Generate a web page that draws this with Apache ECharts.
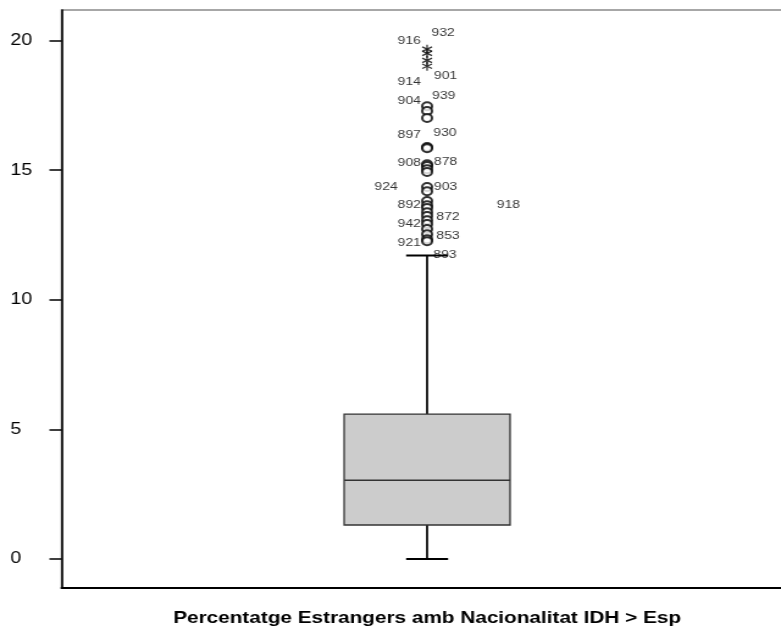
<!DOCTYPE html>
<html>
<head>
<meta charset="utf-8">
<script src="https://cdn.jsdelivr.net/npm/echarts@6/dist/echarts.min.js"></script>
<style>
  html, body { margin: 0; padding: 0; background: #fff; overflow: hidden; }
  #wrap { width: 781px; height: 633px; overflow: hidden; }
  /* the plot is drawn narrower and widened horizontally */
  #chart { width: 640px; height: 633px; transform: scaleX(1.2203); transform-origin: 0 0; }
</style>
</head>
<body>
<div id="wrap"><div id="chart"></div></div>
<script>
// Variable on the category axis
const categories = ['Percentatge Estrangers amb Nacionalitat IDH > Esp'];

// Five-number summary: lower whisker, Q1, median, Q3, upper whisker
const boxStats = [0, 1.31, 3.04, 5.59, 11.71];

// Extreme values (drawn as asterisks) and their case numbers
const extremeValues = [19.67, 19.51, 19.24, 19.01];
const extremeIds = ['932', '916', '901', '914'];

// Outliers (drawn as circles) and their case numbers ('' = unlabelled)
const outlierValues = [17.47, 17.28, 17.01, 15.89, 15.85, 15.23, 15.16, 15.04, 14.93,
                       14.35, 14.19, 13.81, 13.65, 13.54, 13.38, 13.23, 13.07, 12.92,
                       12.73, 12.53, 12.34, 12.26];
const outlierIds = ['904', '939', '', '897', '930', '878', '908', '', '',
                    '924', '903', '', '892', '918', '', '872', '', '942',
                    '', '853', '921', '893'];

// Value-axis tick labels
const yTicks = [0, 5, 10, 15, 20];

const FONT = '"Liberation Sans", Arial, sans-serif';

// Case-number label placement: [side, dx, dy] relative to the marker centre
const labelLayout = {
  '932': ['left', 3.5, -16], '916': ['right', -5, -12],
  '901': ['left', 5.5, 16],  '914': ['right', -5, 16],
  '904': ['right', -5, -5],  '939': ['left', 4, -15],
  '897': ['right', -5, -12], '930': ['left', 5, -15],
  '878': ['left', 5.5, -2],  '908': ['right', -5, -3],
  '924': ['right', -24, 0],  '903': ['left', 5.5, -4],
  '892': ['right', -5, 0],   '918': ['left', 57, -3],
  '872': ['left', 7.5, 1],   '942': ['right', -5, 0],
  '853': ['left', 7.5, 2],   '921': ['right', -5, 4],
  '893': ['left', 5, 14]
};

function pointData(values, ids) {
  return values.map(function (v, i) {
    const id = ids[i];
    const lay = labelLayout[id];
    return {
      value: [0, v],
      label: lay ? {
        show: true, formatter: id, position: 'inside',
        align: lay[0], verticalAlign: 'middle',
        offset: [lay[1], lay[2]],
        fontSize: 11.5, color: '#000', fontFamily: FONT
      } : { show: false }
    };
  });
}

const chart = echarts.init(document.getElementById('chart'));

chart.setOption({
  animation: false,
  backgroundColor: '#ffffff',
  grid: {
    left: 50.5, right: -9.5, top: 10, bottom: 45,
    outerBoundsMode: 'none',
    show: true, borderColor: '#8a8a8a', borderWidth: 1.5, backgroundColor: 'transparent'
  },
  xAxis: {
    type: 'category',
    data: categories,
    axisLine: { onZero: false, lineStyle: { color: '#000', width: 2 } },
    axisTick: { alignWithLabel: true, length: 13, lineStyle: { color: '#000', width: 1.3 } },
    axisLabel: { fontSize: 17, fontWeight: 'bold', color: '#000', margin: 22, fontFamily: FONT },
    splitLine: { show: false }
  },
  yAxis: {
    type: 'value',
    min: -1.12, max: 21.18,
    axisLine: { show: true, lineStyle: { color: '#000', width: 1.6 } },
    axisTick: { show: true, length: 10, customValues: yTicks, lineStyle: { color: '#000', width: 1.5 } },
    axisLabel: { customValues: yTicks, align: 'left', margin: 42, fontSize: 16, color: '#000', fontFamily: FONT },
    splitLine: { show: false }
  },
  series: [
    {
      type: 'custom',
      data: [[0].concat(boxStats)],
      renderItem: function (params, api) {
        const band = api.size([1, 0])[0];
        const bw = band * 0.227;
        const cw = band * 0.0575;
        const pMin = api.coord([api.value(0), api.value(1)]);
        const pQ1 = api.coord([api.value(0), api.value(2)]);
        const pMed = api.coord([api.value(0), api.value(3)]);
        const pQ3 = api.coord([api.value(0), api.value(4)]);
        const pMax = api.coord([api.value(0), api.value(5)]);
        const cx = pMed[0];
        const line = function (x1, y1, x2, y2, w, c) {
          return { type: 'line', shape: { x1: x1, y1: y1, x2: x2, y2: y2 },
                   style: { stroke: c, lineWidth: w } };
        };
        return {
          type: 'group',
          children: [
            line(cx, pQ3[1], cx, pMax[1], 1.7, '#000'),
            line(cx, pQ1[1], cx, pMin[1], 1.7, '#000'),
            line(cx - cw / 2, pMax[1], cx + cw / 2, pMax[1], 2, '#000'),
            line(cx - cw / 2, pMin[1], cx + cw / 2, pMin[1], 2, '#000'),
            { type: 'rect',
              shape: { x: cx - bw / 2, y: pQ3[1], width: bw, height: pQ1[1] - pQ3[1] },
              style: { fill: '#cccccc', stroke: '#333', lineWidth: 1.3 } },
            line(cx - bw / 2, pMed[1], cx + bw / 2, pMed[1], 1.5, '#333')
          ]
        };
      },
      z: 2
    },
    {
      type: 'scatter',
      data: pointData(outlierValues, outlierIds),
      symbol: 'emptyCircle',
      symbolSize: 8,
      itemStyle: { color: '#000', borderColor: '#000', borderWidth: 0.9 },
      z: 3
    },
    {
      type: 'scatter',
      data: pointData(extremeValues, extremeIds),
      symbol: 'path://M5,0L5,10M0.7,2.5L9.3,7.5M0.7,7.5L9.3,2.5',
      symbolSize: [8, 9],
      itemStyle: { color: 'transparent', borderColor: '#000', borderWidth: 1.3 },
      z: 3
    }
  ]
});
</script>
</body>
</html>
